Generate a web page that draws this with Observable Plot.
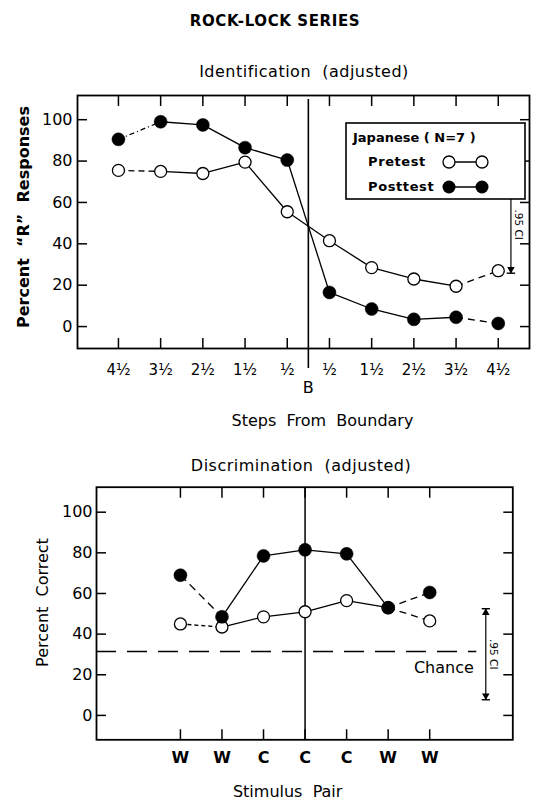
<!DOCTYPE html>
<html>
<head>
<meta charset="utf-8">
<script src="https://cdn.jsdelivr.net/npm/d3@7"></script>
<script src="https://cdn.jsdelivr.net/npm/@observablehq/plot@0.6"></script>
<style>
  body { margin: 0; background: #fff; }
  #page { position: relative; width: 539px; height: 801px; overflow: hidden;
          font-family: "DejaVu Sans", sans-serif; color: #000; background: #fff; }
  .title { position: absolute; transform: translate(-50%, -50%); white-space: pre; }
  #ident, #disc, #legend { position: absolute; left: 0; }
  #ident { top: 0; }
  #disc { top: 440px; }
</style>
</head>
<body>
<div id="page">
  <div class="title" style="left:275px; top:21px; font-size:15px; font-weight:bold; letter-spacing:0.6px">ROCK-LOCK SERIES</div>
  <div class="title" style="left:304px; top:71px; font-size:16px; letter-spacing:0.5px">Identification  (adjusted)</div>
  <div class="title" style="left:301px; top:465px; font-size:16px; letter-spacing:0.5px">Discrimination  (adjusted)</div>
  <div id="ident"></div>
  <div id="disc"></div>
  <svg id="legend" style="left:345px; top:122px" width="182" height="79" font-family="DejaVu Sans, sans-serif">
    <rect x="1" y="1" width="179" height="76" fill="white" stroke="black" stroke-width="1.6"/>
    <text x="8" y="16" dominant-baseline="middle" font-size="13" font-weight="bold">Japanese ( N=7 )</text>
    <text x="23" y="40" dominant-baseline="middle" font-size="13" font-weight="bold" letter-spacing="0.6">Pretest</text>
    <text x="23" y="65" dominant-baseline="middle" font-size="13" font-weight="bold" letter-spacing="0.6">Posttest</text>
    <line x1="104" x2="137" y1="40" y2="40" stroke="black" stroke-width="1.3"/>
    <circle cx="104" cy="40" r="6" fill="white" stroke="black" stroke-width="1.3"/>
    <circle cx="137" cy="40" r="6" fill="white" stroke="black" stroke-width="1.3"/>
    <line x1="104" x2="137" y1="65" y2="65" stroke="black" stroke-width="1.3"/>
    <circle cx="104" cy="65" r="6.5" fill="black"/>
    <circle cx="137" cy="65" r="6.5" fill="black"/>
  </svg>
</div>
<script>
// Identification: steps from the category boundary B
const steps = [-4.5, -3.5, -2.5, -1.5, -0.5, 0.5, 1.5, 2.5, 3.5, 4.5];
const stepLabels = ["4½", "3½", "2½", "1½", "½", "½", "1½", "2½", "3½", "4½"];
const identPretest = [75.5, 75, 74, 79.5, 55.5, 41.5, 28.5, 23, 19.5, 27];
const identPosttest = [90.5, 99, 97.5, 86.5, 80.5, 16.5, 8.5, 3.5, 4.5, 1.5];
const identCI = [25.8, 72.7];
const percentTicks = [0, 20, 40, 60, 80, 100];

// Discrimination: stimulus pairs (W = within category, C = cross category)
const pairs = ["W", "W", "C", "C", "C", "W", "W"];
const discPretest = [45, 43.5, 48.5, 51, 56.5, 53, 46.5];
const discPosttest = [69, 48.5, 78.5, 81.5, 79.5, 53, 60.5];
const discCI = [7.7, 52.5];
const chance = 31.5;

const font = "DejaVu Sans, sans-serif";
const lineW = 1.3;

// consecutive segments; the outermost ones are drawn dashed
function segments(xs, ys) {
  return xs.slice(1).map((x, i) => ({
    x1: xs[i], y1: ys[i], x2: x, y2: ys[i + 1],
    dashed: i === 0 || i === xs.length - 2
  }));
}

function seriesMarks(xs, ys, filled, firstDash, lastDash) {
  const segs = segments(xs, ys);
  const n = segs.length;
  const pts = xs.map((x, i) => ({x, y: ys[i]}));
  return [
    Plot.link(segs.filter(s => !s.dashed), {x1: "x1", y1: "y1", x2: "x2", y2: "y2", stroke: "black", strokeWidth: lineW}),
    Plot.link([segs[0]], {x1: "x1", y1: "y1", x2: "x2", y2: "y2", stroke: "black", strokeWidth: lineW, strokeDasharray: firstDash}),
    Plot.link([segs[n - 1]], {x1: "x1", y1: "y1", x2: "x2", y2: "y2", stroke: "black", strokeWidth: lineW, strokeDasharray: lastDash}),
    filled
      ? Plot.dot(pts, {x: "x", y: "y", r: 6.5, fill: "black", stroke: "black", strokeWidth: 0.5})
      : Plot.dot(pts, {x: "x", y: "y", r: 6, fill: "white", stroke: "black", strokeWidth: lineW})
  ];
}

// confidence-interval bar: shaft, end caps and arrowheads
function ciMarks(ci, cx, capHalf, labelX) {
  return [
    Plot.link([ci], {x1: () => cx, x2: () => cx, y1: d => d[0], y2: d => d[1], stroke: "black", strokeWidth: 1.2}),
    Plot.link(ci, {x1: () => cx - capHalf, x2: () => cx + capHalf, y1: d => d, y2: d => d, stroke: "black", strokeWidth: 1.4}),
    Plot.dot([ci[1]], {x: () => cx, y: d => d, symbol: "triangle", r: 2.8, fill: "black", dy: 4}),
    Plot.dot([ci[0]], {x: () => cx, y: d => d, symbol: "triangle", rotate: 180, r: 2.8, fill: "black", dy: -4}),
    Plot.text([".95 CI"], {x: () => labelX, y: () => (ci[0] + ci[1]) / 2, rotate: 90, fontSize: 10.5, fontFamily: font})
  ];
}

const stepLabel = new Map(steps.map((s, i) => [s, stepLabels[i]]));
const centered = {textAnchor: "middle", lineAnchor: "middle", fontFamily: font};

const ident = Plot.plot({
  width: 539, height: 440,
  marginTop: 95, marginBottom: 92, marginLeft: 77, marginRight: 10,
  x: {domain: [-5.47, 5.24]},
  y: {domain: [-10.6, 111.7]},
  style: {fontFamily: font, color: "black", background: "transparent", overflow: "visible"},
  marks: [
    Plot.frame({stroke: "black", strokeWidth: 1.8}),
    Plot.axisY({anchor: "left", ticks: percentTicks, tickSize: -10, tickPadding: 15, fontSize: 16, strokeWidth: 1.5, label: null}),
    Plot.axisY({anchor: "right", ticks: percentTicks, tickSize: -10, tickFormat: () => "", strokeWidth: 1.5, label: null}),
    Plot.axisX({anchor: "top", ticks: steps, tickSize: -10, tickFormat: () => "", strokeWidth: 1.5, label: null}),
    Plot.axisX({anchor: "bottom", ticks: steps, tickSize: -10, tickPadding: 26, tickFormat: d => stepLabel.get(d), fontSize: 15, strokeWidth: 1.5, label: null}),
    Plot.ruleX([0], {stroke: "black", strokeWidth: 1.6, insetTop: 4, insetBottom: -20}),
    Plot.text(["B"], {x: 0, frameAnchor: "bottom", dy: 39, fontSize: 16, ...centered}),
    Plot.text(["Steps  From  Boundary"], {frameAnchor: "bottom", dx: 19, dy: 72, fontSize: 16, letterSpacing: "0.5px", ...centered}),
    Plot.text(["Percent  “R”  Responses"], {frameAnchor: "left", rotate: -90, dx: -54, dy: -5, fontSize: 16, fontWeight: "bold", ...centered}),
    ...ciMarks(identCI, 4.8, 0.1, 4.98),
    ...seriesMarks(steps, identPretest, false, "6,4", "7,5"),
    ...seriesMarks(steps, identPosttest, true, "5,3,1,3", "7,5")
  ]
});
document.getElementById("ident").append(ident);

const idx = pairs.map((_, i) => i);
const disc = Plot.plot({
  width: 539, height: 361,
  marginTop: 46.7, marginBottom: 61.7, marginLeft: 96, marginRight: 26.7,
  x: {domain: [-2.02, 8.0]},
  y: {domain: [-12, 112.3]},
  style: {fontFamily: font, color: "black", background: "transparent", overflow: "visible"},
  marks: [
    Plot.frame({stroke: "black", strokeWidth: 1.8}),
    Plot.axisY({anchor: "left", ticks: percentTicks, tickSize: -10, tickPadding: 14, fontSize: 16, strokeWidth: 1.5, label: null}),
    Plot.axisY({anchor: "right", ticks: percentTicks, tickSize: -10, tickFormat: () => "", strokeWidth: 1.5, label: null}),
    Plot.axisX({anchor: "top", ticks: idx, tickSize: -10, tickFormat: () => "", strokeWidth: 1.5, label: null}),
    Plot.axisX({anchor: "bottom", ticks: idx, tickSize: -10, tickPadding: 22, tickFormat: d => pairs[d], fontSize: 16, fontWeight: "bold", strokeWidth: 1.5, label: null}),
    Plot.ruleX([3], {stroke: "black", strokeWidth: 1.5}),
    Plot.ruleY([chance], {stroke: "black", strokeWidth: 1.5, strokeDasharray: "20,11", insetRight: 36}),
    Plot.text(["Chance"], {x: () => 6.34, y: () => chance, dy: 16, fontSize: 16, ...centered}),
    Plot.text(["Percent  Correct"], {frameAnchor: "left", rotate: -90, dx: -54, dy: -11, fontSize: 16, letterSpacing: "0.5px", ...centered}),
    Plot.text(["Stimulus  Pair"], {frameAnchor: "bottom", dx: -17, dy: 52, fontSize: 16, ...centered}),
    ...ciMarks(discCI, 7.35, 0.1, 7.54),
    ...seriesMarks(idx, discPretest, false, "4,3", "7,5"),
    ...seriesMarks(idx, discPosttest, true, "8,5", "7,5")
  ]
});
document.getElementById("disc").append(disc);
</script>
</body>
</html>
